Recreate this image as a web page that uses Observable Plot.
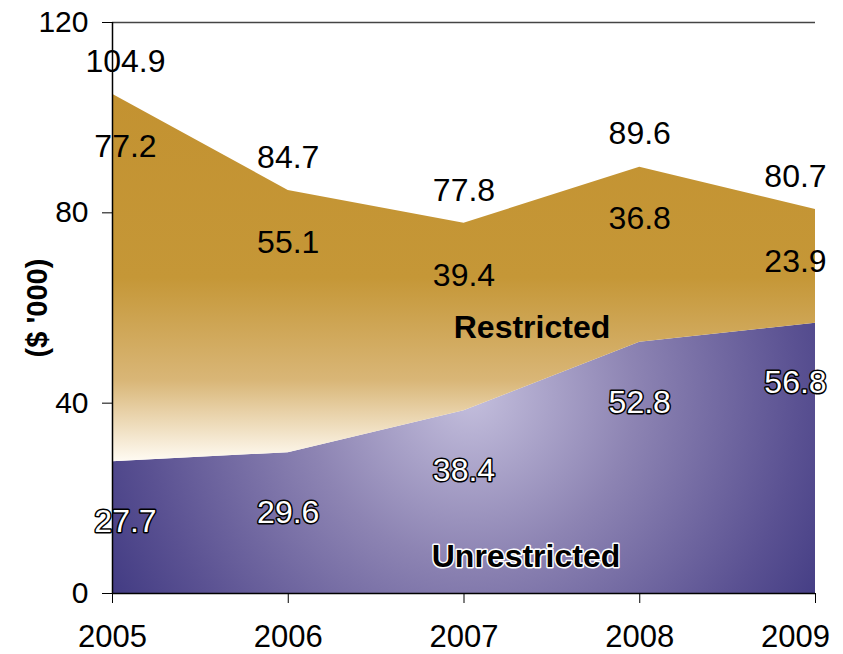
<!DOCTYPE html>
<html>
<head>
<meta charset="utf-8">
<script src="https://cdn.jsdelivr.net/npm/d3@7"></script>
<script src="https://cdn.jsdelivr.net/npm/@observablehq/plot@0.6"></script>
<style>
  html, body { margin: 0; padding: 0; background: #fff; }
  #chart { width: 843px; height: 654px; }
</style>
</head>
<body>
<div id="chart"></div>
<script>
const years = [2005, 2006, 2007, 2008, 2009];
const unrestricted = [27.7, 29.6, 38.4, 52.8, 56.8];
const restricted = [77.2, 55.1, 39.4, 36.8, 23.9];
const totals = [104.9, 84.7, 77.8, 89.6, 80.7];
const yTicks = [0, 40, 80, 120];
const seriesNames = ["Restricted", "Unrestricted"];
const yLabel = "($ '000)";

const rows = years.map((year, i) => ({
  year,
  unrestricted: unrestricted[i],
  restricted: restricted[i],
  base: unrestricted[i],
  top: unrestricted[i] + restricted[i],
  total: totals[i]
}));

const font = "Liberation Sans, Arial, Helvetica, sans-serif";
const lastYear = years[years.length - 1];
const fs = 32;
const axisFs = 31;

// label groups: first column nudged right, last column nudged left (kept inside the page)
const groups = [
  { data: rows.slice(0, 1), dx: 13 },
  { data: rows.slice(1, 4), dx: 0 },
  { data: rows.slice(4), dx: -20 }
];

const valueLabels = groups.flatMap(g => [
  Plot.text(g.data, { x: "year", y: "total", text: d => d.total.toFixed(1), dx: g.dx, dy: -33, fontSize: fs, fill: "#000" }),
  Plot.text(g.data, { x: "year", y: "total", text: d => d.restricted.toFixed(1), dx: g.dx, dy: 52, fontSize: fs, fill: "#000" }),
  Plot.text(g.data, { x: "year", y: "unrestricted", text: d => d.unrestricted.toFixed(1), dx: g.dx, dy: 60, fontSize: fs,
    fill: "#fff", stroke: "#000", strokeWidth: 3, paintOrder: "stroke" })
]);

const svg = Plot.plot({
  width: 843,
  height: 654,
  marginLeft: 112,
  marginRight: 28,
  marginTop: 22,
  marginBottom: 61,
  style: { fontFamily: font, fontSize: "30px", color: "#000", background: "#fff" },
  x: { type: "linear", domain: [2005, 2009], label: null },
  y: { type: "linear", domain: [0, 120], label: null },
  marks: [
    Plot.areaY(rows, { x: "year", y1: 0, y2: "unrestricted", fill: "url(#unresGrad)" }),
    Plot.areaY(rows, { x: "year", y1: "base", y2: "top", fill: "url(#resGrad)" }),
    Plot.ruleY([120], { stroke: "#444", strokeWidth: 1.5 }),
    Plot.ruleY([0], { stroke: "#000", strokeWidth: 1.5 }),
    Plot.ruleX([2005], { stroke: "#000", strokeWidth: 1.5 }),
    Plot.axisX(years, { tickFormat: d => d === lastYear ? "" : String(d), tickSize: 10, tickPadding: 21, fontSize: axisFs, label: null }),
    Plot.axisX([lastYear], { tickFormat: "d", tickSize: 0, tickPadding: 31, dx: -20, fontSize: axisFs, label: null }),
    Plot.axisY(yTicks, { tickSize: 10, tickPadding: 14, fontSize: 30, label: null }),
    ...valueLabels,
    // series names
    Plot.text([seriesNames[0]], { frameAnchor: "middle", dx: 68, dy: 20, fontSize: fs, fontWeight: "bold", fill: "#000" }),
    Plot.text([seriesNames[1]], { frameAnchor: "bottom", lineAnchor: "middle", dx: 62, dy: -37, fontSize: fs, fontWeight: "bold",
      fill: "#000", stroke: "#fff", strokeWidth: 3, paintOrder: "stroke" }),
    // y axis title
    Plot.text([yLabel], { frameAnchor: "left", textAnchor: "middle", dx: -75, rotate: -90, fontSize: 29, fontWeight: "bold", fill: "#000" })
  ]
});

// gradients
const defs = d3.select(svg).insert("defs", ":first-child");
const gold = defs.append("linearGradient").attr("id", "resGrad")
  .attr("x1", 0).attr("y1", 0).attr("x2", 0).attr("y2", 1);
gold.append("stop").attr("offset", "0").attr("stop-color", "#C39231");
gold.append("stop").attr("offset", "0.5").attr("stop-color", "#C59737");
gold.append("stop").attr("offset", "0.78").attr("stop-color", "#D9B677");
gold.append("stop").attr("offset", "1").attr("stop-color", "#FFFBF3");

const purple = defs.append("radialGradient").attr("id", "unresGrad")
  .attr("gradientUnits", "userSpaceOnUse")
  .attr("cx", 470).attr("cy", 395).attr("r", 470);
purple.append("stop").attr("offset", "0").attr("stop-color", "#C4BFDD");
purple.append("stop").attr("offset", "0.35").attr("stop-color", "#8D84B3");
purple.append("stop").attr("offset", "0.7").attr("stop-color", "#5A5192");
purple.append("stop").attr("offset", "1").attr("stop-color", "#302B78");

document.getElementById("chart").appendChild(svg);
</script>
</body>
</html>
